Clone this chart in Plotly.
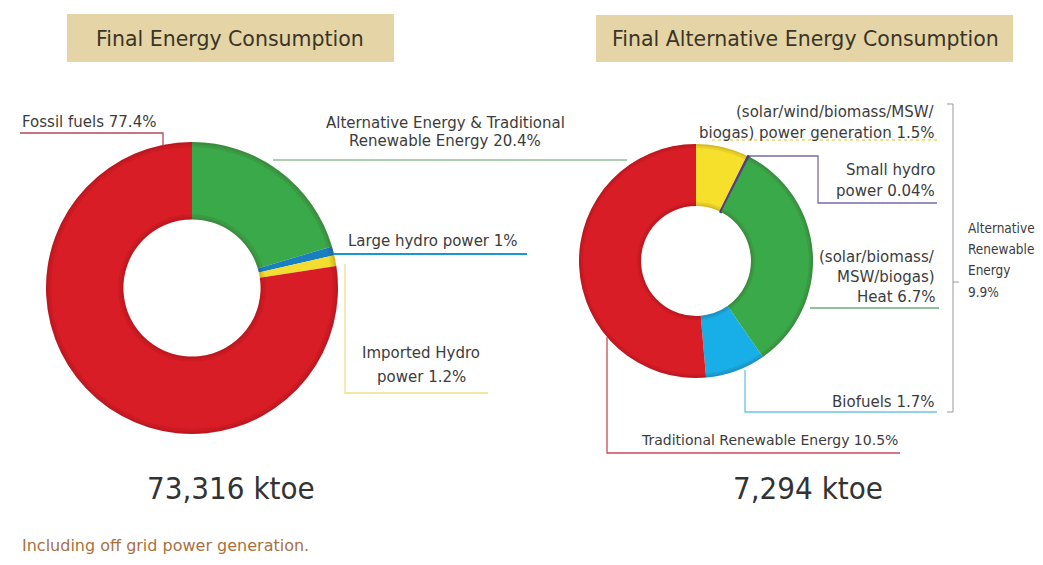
import plotly.graph_objects as go

W, H = 1043, 565

# Final energy consumption shares (%), listed clockwise from 12 o'clock
final_labels = ["Alternative Energy & Traditional Renewable Energy",
                "Large hydro power", "Imported Hydro power", "Fossil fuels"]
final_values = [20.4, 1.0, 1.2, 77.4]
final_colors = ["#3aa94a", "#1a7fc0", "#f3dd2e", "#d81d27"]

# Breakdown of alternative energy (% of final energy), clockwise from 12 o'clock
alt_labels = ["(solar/wind/biomass/MSW/biogas) power generation",
              "Small hydro power", "(solar/biomass/MSW/biogas) Heat",
              "Biofuels", "Traditional Renewable Energy"]
alt_values = [1.5, 0.04, 6.7, 1.7, 10.5]
alt_colors = ["#f6e02c", "#553c8c", "#3aa94a", "#18aee8", "#d81d27"]

group_label = ["Alternative", "Renewable", "Energy"]
group_value = 9.9

titles = ["Final Energy Consumption", "Final Alternative Energy Consumption"]
totals = ["73,316 ktoe", "7,294 ktoe"]
footnote = "Including off grid power generation."


def px(x):
    return x / W


def py(y):
    return 1 - y / H


def pct(v):
    return f"{v:g}%"


def domain(cx, cy, r):
    return dict(x=[px(cx - r), px(cx + r)], y=[py(cy + r), py(cy - r)])


HOLE = 0.47
fig = go.Figure()


def donut(labels, values, colors, cx, cy, r, line=None):
    fig.add_trace(go.Pie(
        labels=labels, values=values, sort=False, direction="clockwise",
        rotation=0, hole=HOLE, textinfo="none", showlegend=False,
        marker=dict(colors=colors, line=line or dict(width=0)),
        domain=domain(cx, cy, r),
    ))
    # soft darker rims on the outer and inner edges for a rounded look
    for rr, hole, alpha in [(r, 0.965, 0.08), (r, 0.985, 0.09),
                            (r * (HOLE + 0.035), HOLE / (HOLE + 0.035), 0.08),
                            (r * (HOLE + 0.015), HOLE / (HOLE + 0.015), 0.09)]:
        fig.add_trace(go.Pie(
            values=[1], labels=[""], sort=False, hole=hole, textinfo="none",
            showlegend=False, hoverinfo="skip",
            marker=dict(colors=[f"rgba(60,0,0,{alpha})"], line=dict(width=0)),
            domain=domain(cx, cy, rr),
        ))


donut(final_labels, final_values, final_colors, 192, 288, 146)
donut(alt_labels, alt_values, alt_colors, 696, 261, 117,
      line=dict(color=["rgba(0,0,0,0)", "#553c8c", "rgba(0,0,0,0)",
                       "rgba(0,0,0,0)", "rgba(0,0,0,0)"],
                width=[0, 2.5, 0, 0, 0]))

shapes = []


def rect(x0, y0, x1, y1, fill):
    shapes.append(dict(type="rect", xref="paper", yref="paper",
                       x0=px(x0), x1=px(x1), y0=py(y1), y1=py(y0),
                       fillcolor=fill, line=dict(width=0), layer="below"))


def polyline(points, color, width=1.3, dash="solid"):
    path = "M " + " L ".join(f"{px(x):.5f},{py(y):.5f}" for x, y in points)
    shapes.append(dict(type="path", xref="paper", yref="paper", path=path,
                       line=dict(color=color, width=width, dash=dash)))


# Title boxes
rect(67, 14, 394, 62, "#e4d4a6")
rect(596, 15, 1013, 62, "#e4d4a6")

# Leader lines, left donut
polyline([(20, 133), (163, 133), (163, 146)], "#b24a5a")
polyline([(273, 160), (627, 160)], "#8fbf95")
polyline([(334, 254), (527, 254)], "#1a96d4", width=2)
polyline([(345, 264), (345, 393), (488, 393)], "#eee08a")

# Leader lines, right donut
polyline([(712, 140), (937, 140)], "#e8d870", dash="dot")
polyline([(750, 156), (818, 156), (818, 203), (937, 203)], "#7c6aa6")
polyline([(810, 308), (939, 308)], "#6aae78")
polyline([(745, 370), (745, 412), (937, 412)], "#6cc2e8")
polyline([(607, 337), (607, 453), (900, 453)], "#c84a5e")

# Bracket grouping the alternative renewable sources
polyline([(947, 104), (953, 104), (953, 412), (947, 412)], "#9a9a9a", width=1)
polyline([(953, 282), (959, 282)], "#9a9a9a", width=1)

LABEL_FONT = dict(family="DejaVu Sans", size=15, color="#3c3c3c")
annotations = []


def text(x, y, s, anchor="center", font=None):
    annotations.append(dict(xref="paper", yref="paper", x=px(x), y=py(y),
                            text=s, showarrow=False, xanchor=anchor,
                            yanchor="middle", font=font or LABEL_FONT))


# Titles
TITLE_FONT = dict(family="DejaVu Sans", size=20.5, color="#3a3526")
text(230, 39, titles[0], font=TITLE_FONT)
text(805, 39, titles[1], font=TITLE_FONT)

# Left donut labels
text(20, 122, f"{final_labels[3]} {pct(final_values[3])}", anchor="left")
text(445, 123, "Alternative Energy & Traditional")
text(445, 141, f"Renewable Energy {pct(final_values[0])}")
text(433, 241, f"{final_labels[1]} {pct(final_values[1])}")
text(421, 353, "Imported Hydro")
text(421, 377, f"power {pct(final_values[2])}")

# Right donut labels
text(937, 112, "(solar/wind/biomass/MSW/", anchor="right")
text(937, 133, f"biogas) power generation {pct(alt_values[0])}", anchor="right")
text(937, 170, "Small hydro", anchor="right")
text(937, 191, f"power {pct(alt_values[1])}", anchor="right")
text(937, 257, "(solar/biomass/", anchor="right")
text(937, 277, "MSW/biogas)", anchor="right")
text(937, 297, f"Heat {pct(alt_values[2])}", anchor="right")
text(937, 402, f"{alt_labels[3]} {pct(alt_values[3])}", anchor="right")
GROUP_FONT = dict(family="DejaVu Sans Condensed, DejaVu Sans", size=13.5, color="#3c3c3c")
text(966, 228, group_label[0], anchor="left", font=GROUP_FONT)
text(966, 249, group_label[1], anchor="left", font=GROUP_FONT)
text(966, 270, group_label[2], anchor="left", font=GROUP_FONT)
text(966, 292, pct(group_value), anchor="left", font=GROUP_FONT)
text(900, 440, f"{alt_labels[4]} {pct(alt_values[4])}", anchor="right",
     font=dict(family="DejaVu Sans", size=14, color="#3c3c3c"))

# Totals and footnote
TOTAL_FONT = dict(family="DejaVu Sans Condensed, DejaVu Sans", size=31, color="#333333")
text(231, 488, totals[0], font=TOTAL_FONT)
text(808, 488, totals[1], font=TOTAL_FONT)
text(20, 545, footnote, anchor="left",
     font=dict(family="DejaVu Sans", size=16, color="#a8713f"))

fig.update_layout(
    width=W, height=H,
    margin=dict(l=0, r=0, t=0, b=0),
    paper_bgcolor="white", plot_bgcolor="white",
    shapes=shapes, annotations=annotations,
)

fig.write_html("out.html")
